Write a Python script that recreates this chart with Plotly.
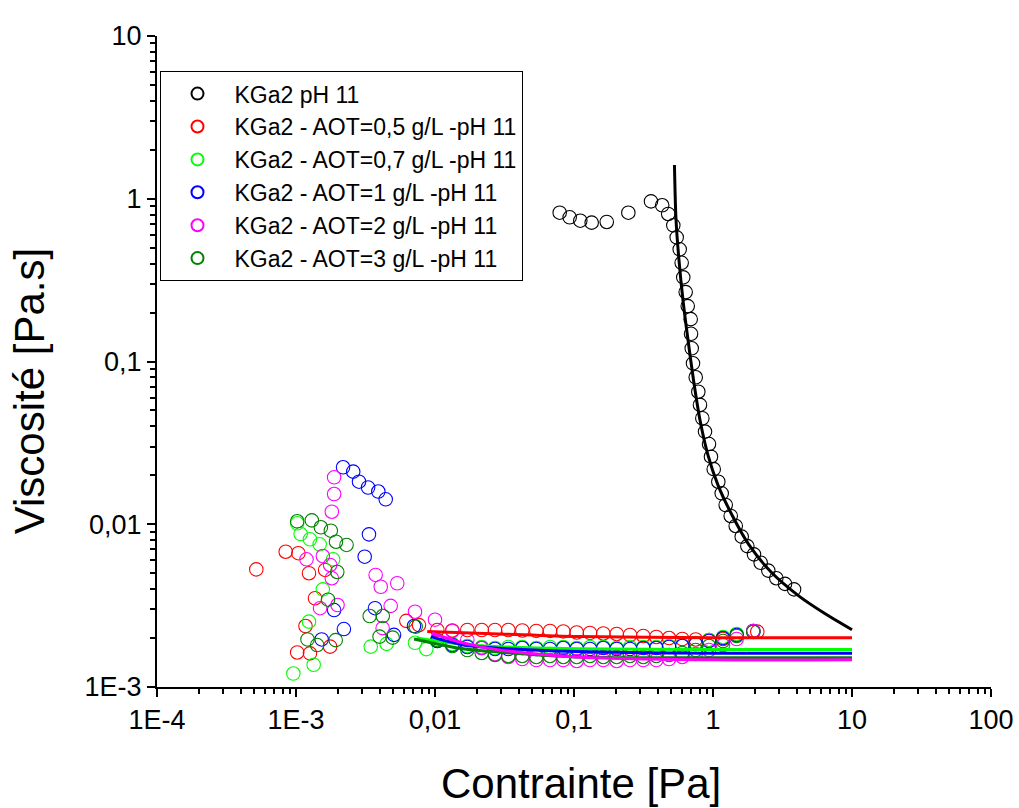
import plotly.graph_objects as go

# ---------------- data ----------------
# KGa2 pH 11 (black)
black_x = [0.0789, 0.0931, 0.111, 0.134, 0.172, 0.246, 0.358, 0.431, 0.476, 0.518, 0.548, 0.576,
           0.595, 0.611, 0.636, 0.658, 0.691, 0.695, 0.703, 0.718, 0.751, 0.784, 0.806, 0.838,
           0.876, 0.936, 0.967, 1.012, 1.092, 1.155, 1.234, 1.341, 1.457, 1.609, 1.766, 1.972,
           2.203, 2.500, 2.854, 3.296, 3.83]
black_y = [0.821, 0.769, 0.733, 0.713, 0.720, 0.821, 0.964, 0.912, 0.806, 0.687, 0.579, 0.489,
           0.404, 0.329, 0.267, 0.219, 0.182, 0.148, 0.1205, 0.0975, 0.080, 0.0652, 0.0541, 0.0448,
           0.0371, 0.0311, 0.0260, 0.0218, 0.01825, 0.01549, 0.01313, 0.01124, 0.00976, 0.00839, 0.00734, 0.00653,
           0.00580, 0.00519, 0.00466, 0.00430, 0.00398]

# common stress grid of the plateau region
grid_x = [0.01039, 0.01332, 0.01708, 0.02168, 0.02702, 0.03368, 0.04246, 0.05356, 0.06721, 0.08375,
          0.1046, 0.1303, 0.1625, 0.2028, 0.2529, 0.3151, 0.391, 0.4827, 0.6013, 0.7507, 0.9359, 1.18]

# AOT = 0.5 g/L (red)
red_x = [0.000518, 0.000843, 0.00102, 0.00104, 0.00117, 0.00124, 0.00126, 0.00137, 0.00162, 0.00176,
         0.00622, 0.00767] + grid_x + [2.083]
red_y = [0.00528, 0.00678, 0.00163, 0.00664, 0.00237, 0.00500, 0.00161, 0.00351, 0.00524, 0.00177,
         0.00255, 0.00240,
         0.00224, 0.002225, 0.00224, 0.00224, 0.00224, 0.00224, 0.002225, 0.00221, 0.00221, 0.002194,
         0.002163, 0.002148, 0.002132, 0.002117, 0.002087, 0.002058, 0.002029, 0.00200, 0.001972, 0.001959,
         0.001945, 0.001972, 0.002188]

# AOT = 0.7 g/L (lime)
lime_x = [0.000957, 0.00102, 0.00108, 0.00124, 0.00126, 0.00134, 0.00148, 0.00156, 0.00185,
          0.00345, 0.00449, 0.00718, 0.00866] + grid_x + [1.48, 1.95]
lime_y = [0.00121, 0.01014, 0.00871, 0.00252, 0.00808, 0.00137, 0.00753, 0.00398, 0.00609,
          0.00177, 0.00184, 0.00187, 0.00171,
          0.001917, 0.001837, 0.001786, 0.001761, 0.001736, 0.001761, 0.001761, 0.001736, 0.001761, 0.001761,
          0.001736, 0.001761, 0.001761, 0.001736, 0.001761, 0.001761, 0.001761, 0.001786, 0.001811, 0.001864,
          0.001945, 0.002029, 0.002117, 0.002209]

# AOT = 1 g/L (blue)
blue_x = [0.00153, 0.00188, 0.00218, 0.00221, 0.00258, 0.00284, 0.00312, 0.00330, 0.00335, 0.00370,
          0.00391, 0.00442, 0.00507, 0.00706] + grid_x + [1.48, 1.95]
blue_y = [0.00196, 0.00297, 0.02239, 0.00227, 0.02104, 0.01826, 0.00632, 0.01682, 0.00867, 0.00305,
          0.01589, 0.01423, 0.00209, 0.00237,
          0.001917, 0.001811, 0.001761, 0.001736, 0.001712, 0.001712, 0.001736, 0.001712, 0.001712, 0.001736,
          0.001712, 0.001712, 0.001736, 0.001712, 0.001712, 0.001736, 0.001736, 0.001761, 0.001786, 0.001837,
          0.001917, 0.002000, 0.002087, 0.002209]

# AOT = 2 g/L (magenta)
mag_x = [0.00119, 0.00149, 0.00156, 0.00176, 0.00181, 0.00181, 0.00188, 0.00188, 0.00199, 0.00374,
         0.00407, 0.00420, 0.00480, 0.00535, 0.00718] + [0.0100] + grid_x[1:] + [1.48, 1.95]
mag_y = [0.00609, 0.00305, 0.00638, 0.00562, 0.00466, 0.01194, 0.01534, 0.01943, 0.00319, 0.00488,
         0.00413, 0.00230, 0.00315, 0.00434, 0.00290,
         0.002592, 0.002209, 0.001945, 0.001736, 0.001595, 0.001529, 0.001486, 0.001465, 0.001465, 0.001465,
         0.001445, 0.001465, 0.001465, 0.001445, 0.001465, 0.001465, 0.001465, 0.001486, 0.001529, 0.001595,
         0.001688, 0.001811, 0.001972, 0.002209]

# AOT = 3 g/L (dark green)
dkg_x = [0.00102, 0.00121, 0.00130, 0.00142, 0.00151, 0.00170, 0.00178, 0.00193, 0.00194, 0.00198,
         0.00231, 0.00339, 0.00399, 0.00421, 0.00496, 0.00726] + grid_x + [1.48, 1.95]
dkg_y = [0.01043, 0.00196, 0.01057, 0.00181, 0.00958, 0.00344, 0.00913, 0.00194, 0.00781, 0.00509,
         0.00746, 0.00273, 0.00204, 0.00273, 0.00201, 0.00235,
         0.001945, 0.001786, 0.001688, 0.001618, 0.001573, 0.001551, 0.001551, 0.001529, 0.001551, 0.001529,
         0.001529, 0.001551, 0.001529, 0.001529, 0.001551, 0.001529, 0.001551, 0.001573, 0.001618, 0.001688,
         0.001786, 0.001917, 0.002058, 0.002179]

# fitted curves
fit_black_x = [0.528, 0.542, 0.569, 0.608, 0.661, 0.724, 0.806, 0.920, 1.086, 1.370, 1.816, 2.615, 4.156, 6.29, 10]
fit_black_y = [1.61, 0.740, 0.4205, 0.2388, 0.1355, 0.0770, 0.0437, 0.0266, 0.0174, 0.0114, 0.00746, 0.00509,
               0.00362, 0.00285, 0.00225]
fit_red_x = [0.0088, 0.0289, 0.104, 1.0, 10]
fit_red_y = [0.00219, 0.00212, 0.00204, 0.00201, 0.00201]
fit_lime_x = [0.00742, 0.01489, 0.0289, 0.104, 1.0, 10]
fit_lime_y = [0.00200, 0.00184, 0.00177, 0.00172, 0.00170, 0.00170]
fit_blue_x = [0.00935, 0.01617, 0.0289, 0.104, 1.0, 10]
fit_blue_y = [0.00204, 0.00181, 0.00173, 0.00165, 0.00161, 0.00161]
fit_mag_x = [0.0095, 0.01617, 0.0289, 0.104, 1.0, 10]
fit_mag_y = [0.00214, 0.00186, 0.00169, 0.00153, 0.00147, 0.00147]
fit_dkg_x = [0.00706, 0.01489, 0.0289, 0.104, 1.0, 10]
fit_dkg_y = [0.00197, 0.00173, 0.00164, 0.00153, 0.00151, 0.00151]

names = ["KGa2 pH 11",
         "KGa2 - AOT=0,5 g/L -pH 11",
         "KGa2 - AOT=0,7 g/L -pH 11",
         "KGa2 - AOT=1 g/L -pH 11",
         "KGa2 - AOT=2 g/L -pH 11",
         "KGa2 - AOT=3 g/L -pH 11"]
colors = ["#000000", "#FF0000", "#00FF00", "#0000FF", "#FF00FF", "#008000"]

x_tickvals = [1e-4, 1e-3, 1e-2, 1e-1, 1, 10, 100]
x_ticktext = ["1E-4", "1E-3", "0,01", "0,1", "1", "10", "100"]
y_tickvals = [1e-3, 1e-2, 1e-1, 1, 10]
y_ticktext = ["1E-3", "0,01", "0,1", "1", "10"]
x_title = "Contrainte [Pa]"
y_title = "Viscosité [Pa.s]"

# ---------------- figure ----------------
FONT = "Liberation Sans, Arial, sans-serif"
fig = go.Figure()

series = [(black_x, black_y), (red_x, red_y), (lime_x, lime_y),
          (blue_x, blue_y), (mag_x, mag_y), (dkg_x, dkg_y)]
for (sx, sy), nm, c in zip(series, names, colors):
    fig.add_trace(go.Scatter(x=sx, y=sy, mode="markers", name=nm,
                             marker=dict(symbol="circle-open", size=13.5, color=c,
                                         line=dict(width=1.1, color=c))))

fits = [(fit_red_x, fit_red_y, "#FF0000"), (fit_lime_x, fit_lime_y, "#00FF00"),
        (fit_blue_x, fit_blue_y, "#0000FF"), (fit_dkg_x, fit_dkg_y, "#008000"),
        (fit_mag_x, fit_mag_y, "#FF00FF"), (fit_black_x, fit_black_y, "#000000")]
for fx, fy, c in fits:
    fig.add_trace(go.Scatter(x=fx, y=fy, mode="lines", showlegend=False, hoverinfo="skip",
                             line=dict(color=c, width=3, shape="spline", smoothing=0.8)))

def minor_vals(lo, hi):
    vals = []
    for e in range(lo, hi):
        for m in range(2, 10):
            vals.append(m * 10 ** e)
    return vals

fig.update_layout(
    width=1019, height=808,
    margin=dict(l=157, r=28, t=36, b=121),
    paper_bgcolor="white", plot_bgcolor="white",
    font=dict(family=FONT, color="black"),
    showlegend=True,
    legend=dict(x=0.003, y=0.946, xanchor="left", yanchor="top",
                bgcolor="white", bordercolor="black", borderwidth=1,
                font=dict(size=23, family=FONT), itemsizing="constant",
                itemwidth=64, tracegroupgap=0),
    xaxis=dict(type="log", range=[-4, 2], showgrid=False, zeroline=False, automargin=False,
               showline=True, linecolor="black", linewidth=2, mirror=False,
               tickmode="array", tickvals=x_tickvals, ticktext=x_ticktext,
               ticks="outside", ticklen=8, tickwidth=2, tickcolor="black",
               tickfont=dict(size=27, family=FONT),
               minor=dict(tickmode="array", tickvals=minor_vals(-4, 2), ticks="outside",
                          ticklen=5, tickwidth=1.5, tickcolor="black", showgrid=False)),
    yaxis=dict(type="log", range=[-3, 1], showgrid=False, zeroline=False, automargin=False,
               showline=True, linecolor="black", linewidth=2, mirror=False,
               tickmode="array", tickvals=y_tickvals, ticktext=y_ticktext,
               ticks="outside", ticklen=8, tickwidth=2, tickcolor="black",
               tickfont=dict(size=27, family=FONT),
               minor=dict(tickmode="array", tickvals=minor_vals(-3, 1), ticks="outside",
                          ticklen=5, tickwidth=1.5, tickcolor="black", showgrid=False)),
    annotations=[
        dict(text=x_title, xref="paper", yref="paper", x=0.508, y=-0.1475,
             xanchor="center", yanchor="middle", showarrow=False,
             font=dict(size=42, family=FONT, color="black")),
        dict(text=y_title, xref="paper", yref="paper", x=-0.152, y=0.4547,
             xanchor="center", yanchor="middle", showarrow=False, textangle=-90,
             font=dict(size=42, family=FONT, color="black")),
    ],
)

# remove the default 8 px page margin so the figure fills the window exactly
fig.write_html("out.html", config={"displayModeBar": False},
               post_script="document.body.style.margin='0';document.body.style.overflow='hidden';")
